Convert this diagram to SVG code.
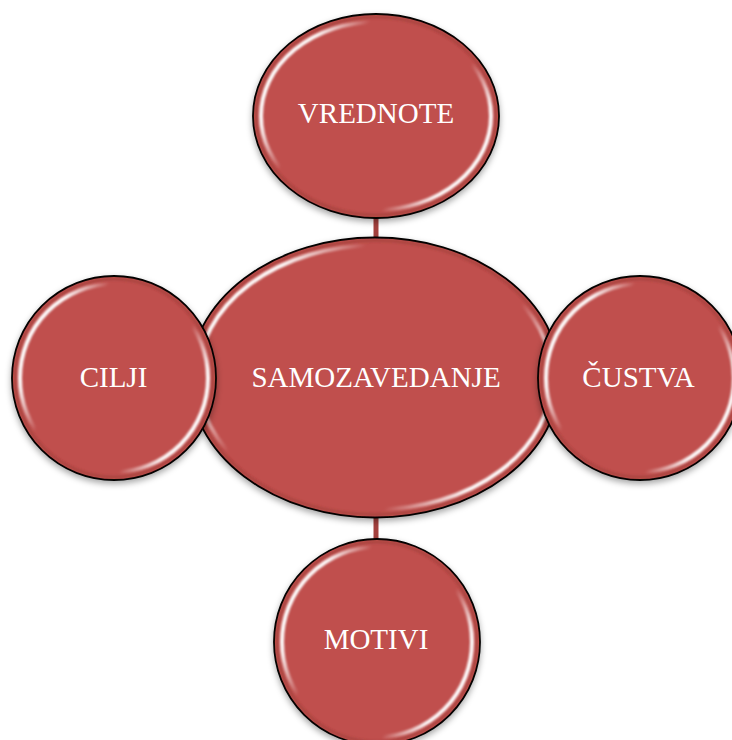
<svg xmlns="http://www.w3.org/2000/svg" width="732" height="740" viewBox="0 0 732 740">
  <defs>
    <!-- soft drop shadow under each bubble -->
    <filter id="shadow" x="-20%" y="-20%" width="140%" height="150%">
      <feDropShadow dx="0" dy="3" stdDeviation="3" flood-color="#000" flood-opacity="0.35"/>
    </filter>
    <filter id="soft" x="-10%" y="-10%" width="120%" height="120%">
      <feGaussianBlur stdDeviation="0.9"/>
    </filter>
    <!-- glossy rim highlight: bright at upper-left and lower-right -->
    <linearGradient id="gloss" x1="0" y1="0.25" x2="1" y2="0.75">
      <stop offset="0" stop-color="#fff" stop-opacity="1"/>
      <stop offset="0.12" stop-color="#fff" stop-opacity="0.95"/>
      <stop offset="0.28" stop-color="#fff" stop-opacity="0"/>
      <stop offset="0.72" stop-color="#fff" stop-opacity="0"/>
      <stop offset="0.88" stop-color="#fff" stop-opacity="0.95"/>
      <stop offset="1" stop-color="#fff" stop-opacity="1"/>
    </linearGradient>
  </defs>
  <style>
    .body { fill: #C0504D; stroke: #000; stroke-width: 1.8; }
    .rim { fill: none; stroke: #8E3431; stroke-width: 3; stroke-opacity: 0.4; }
    .shine { fill: none; stroke: url(#gloss); stroke-width: 4; }
    .link { stroke: #A3403D; stroke-width: 5; }
  </style>

  <rect width="732" height="740" fill="#fff"/>

  <!-- connectors -->
  <g id="connectors">
    <line class="link" x1="376" y1="215" x2="376" y2="242"/>
    <line class="link" x1="376" y1="514" x2="376" y2="542"/>
  </g>

  <!-- all labels share one serif face -->
  <g font-family="Liberation Serif, Times New Roman, serif" font-size="29" fill="#fff" text-anchor="middle">
    <!-- central node -->
    <g id="samozavedanje">
      <ellipse class="body" cx="375" cy="377.5" rx="185" ry="140" filter="url(#shadow)"/>
      <ellipse class="rim" cx="375" cy="377.5" rx="182" ry="137" filter="url(#soft)"/>
      <ellipse class="shine" cx="375" cy="377.5" rx="177" ry="132" filter="url(#soft)"/>
      <text x="376" y="387">SAMOZAVEDANJE</text>
    </g>

    <g id="vrednote">
      <ellipse class="body" cx="376" cy="116" rx="123" ry="102" filter="url(#shadow)"/>
      <ellipse class="rim" cx="376" cy="116" rx="120" ry="99" filter="url(#soft)"/>
      <ellipse class="shine" cx="376" cy="116" rx="115" ry="94" filter="url(#soft)"/>
      <text x="376" y="123">VREDNOTE</text>
    </g>

    <g id="motivi">
      <ellipse class="body" cx="377" cy="642" rx="103" ry="103" filter="url(#shadow)"/>
      <ellipse class="rim" cx="377" cy="642" rx="100" ry="100" filter="url(#soft)"/>
      <ellipse class="shine" cx="377" cy="642" rx="95" ry="95" filter="url(#soft)"/>
      <text x="376" y="649">MOTIVI</text>
    </g>

    <g id="cilji">
      <ellipse class="body" cx="114" cy="378" rx="102" ry="102" filter="url(#shadow)"/>
      <ellipse class="rim" cx="114" cy="378" rx="99" ry="99" filter="url(#soft)"/>
      <ellipse class="shine" cx="114" cy="378" rx="94" ry="94" filter="url(#soft)"/>
      <text x="113.5" y="387">CILJI</text>
    </g>

    <g id="custva">
      <ellipse class="body" cx="640" cy="378" rx="102" ry="102" filter="url(#shadow)"/>
      <ellipse class="rim" cx="640" cy="378" rx="99" ry="99" filter="url(#soft)"/>
      <ellipse class="shine" cx="640" cy="378" rx="94" ry="94" filter="url(#soft)"/>
      <text x="638.5" y="387">ČUSTVA</text>
    </g>
  </g>
</svg>
